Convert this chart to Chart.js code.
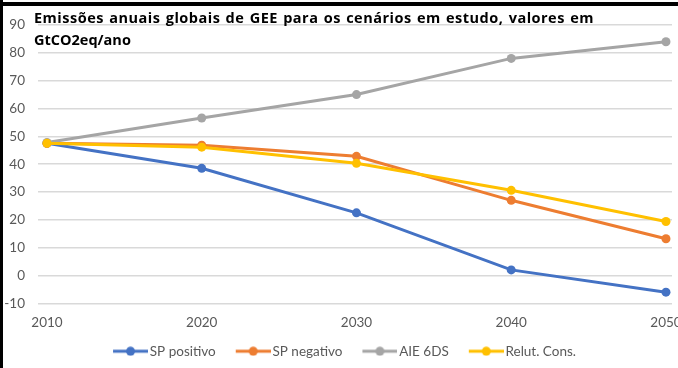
<!DOCTYPE html>
<html>
<head>
<meta charset="utf-8">
<script src="https://cdn.jsdelivr.net/npm/chart.js@4"></script>
<style>
  html, body { margin: 0; padding: 0; background: #fff; }
  #wrap { width: 678px; height: 368px; position: relative; }
</style>
</head>
<body>
<div id="wrap"><canvas id="emissoes" width="678" height="368"></canvas></div>
<script>
const years = [2010, 2020, 2030, 2040, 2050];
const yearTicks = [2010, 2020, 2030, 2040, 2050];

const spPositivo = [47.5, 38.5, 22.5, 2, -6];
const spNegativo = [47.5, 46.8, 42.8, 27, 13.2];
const aie6ds = [47.8, 56.6, 65, 78, 84];
const relutCons = [47.5, 46.1, 40.3, 30.6, 19.4];

const titleLines = [
  'Emissões anuais globais de GEE para os cenários em estudo, valores em',
  'GtCO2eq/ano'
];

const FONT = 'Lato, "Open Sans", sans-serif';
const TITLE_FONT = 'bold 14.5px "Open Sans", sans-serif';

// legend swatch: short line with a dot in the middle,
// left part kept transparent to space the items out
function swatch(color) {
  const c = document.createElement('canvas');
  c.width = 57;
  c.height = 10;
  const ctx = c.getContext('2d');
  ctx.strokeStyle = color;
  ctx.lineWidth = 3;
  ctx.beginPath();
  ctx.moveTo(22, 5);
  ctx.lineTo(57, 5);
  ctx.stroke();
  ctx.fillStyle = color;
  ctx.beginPath();
  ctx.arc(39.5, 5, 4.5, 0, Math.PI * 2);
  ctx.fill();
  return c;
}

function series(label, values, color, order) {
  return {
    label,
    data: years.map((y, i) => ({ x: y, y: values[i] })),
    borderColor: color,
    backgroundColor: color,
    pointBackgroundColor: color,
    pointBorderWidth: 0,
    pointRadius: 4.5,
    pointStyle: 'circle',
    borderWidth: 3,
    tension: 0,
    order
  };
}

const titlePlugin = {
  id: 'titulo',
  beforeDraw(chart) {
    const ctx = chart.ctx;
    ctx.save();
    ctx.fillStyle = '#fff';
    ctx.fillRect(0, 0, chart.width, chart.height);
    ctx.restore();
  },
  afterDraw(chart) {
    const ctx = chart.ctx;
    ctx.save();
    ctx.fillStyle = '#000';
    ctx.font = TITLE_FONT;
    ctx.letterSpacing = '0.5px';
    ctx.wordSpacing = '1px';
    ctx.textBaseline = 'middle';
    ctx.textAlign = 'left';
    ctx.fillText(titleLines[0], 34, 19);
    ctx.letterSpacing = '0px';
    ctx.fillText(titleLines[1], 34, 41);
    // frame on the top and left edges
    ctx.fillRect(0, 2, chart.width, 4);
    ctx.fillRect(0, 0, 3, chart.height);
    ctx.restore();
  }
};

new Chart(document.getElementById('emissoes'), {
  type: 'line',
  data: {
    datasets: [
      series('SP positivo', spPositivo, '#4472C4', 4),
      series('SP negativo', spNegativo, '#ED7D31', 3),
      series('AIE 6DS', aie6ds, '#A5A5A5', 2),
      series('Relut. Cons.', relutCons, '#FFC000', 1)
    ]
  },
  options: {
    responsive: false,
    animation: false,
    layout: { padding: { top: 25, right: 6, left: 0, bottom: 0 } },
    plugins: {
      tooltip: { enabled: false },
      title: { display: false },
      legend: {
        position: 'bottom',
        labels: {
          usePointStyle: true,
          pointStyleWidth: 47,
          padding: 3,
          color: '#595959',
          font: { family: FONT, size: 13.5 },
          sort: (a, b) => a.datasetIndex - b.datasetIndex,
          generateLabels: (chart) =>
            Chart.defaults.plugins.legend.labels.generateLabels(chart).map(item => ({
              ...item,
              pointStyle: swatch(chart.data.datasets[item.datasetIndex].borderColor)
            }))
        }
      }
    },
    scales: {
      x: {
        type: 'linear',
        min: 2009.42,
        max: 2050.39,
        afterBuildTicks: (scale) => {
          scale.ticks = yearTicks.map(v => ({ value: v }));
        },
        afterFit: (scale) => {
          scale.paddingLeft = 0;
          scale.paddingRight = 0;
        },
        grid: { display: false, drawTicks: false },
        border: { display: false },
        ticks: {
          padding: 11,
          color: '#595959',
          font: { family: FONT, size: 13.5 },
          maxRotation: 0,
          callback: (v) => String(v)
        }
      },
      y: {
        min: -10,
        max: 90,
        afterFit: (scale) => { scale.width = 38; },
        grid: { color: '#D9D9D9', lineWidth: 1.5, drawTicks: false },
        border: { display: false },
        ticks: {
          stepSize: 10,
          padding: 13,
          color: '#595959',
          font: { family: FONT, size: 13.5 }
        }
      }
    }
  },
  plugins: [titlePlugin]
});
</script>
</body>
</html>
